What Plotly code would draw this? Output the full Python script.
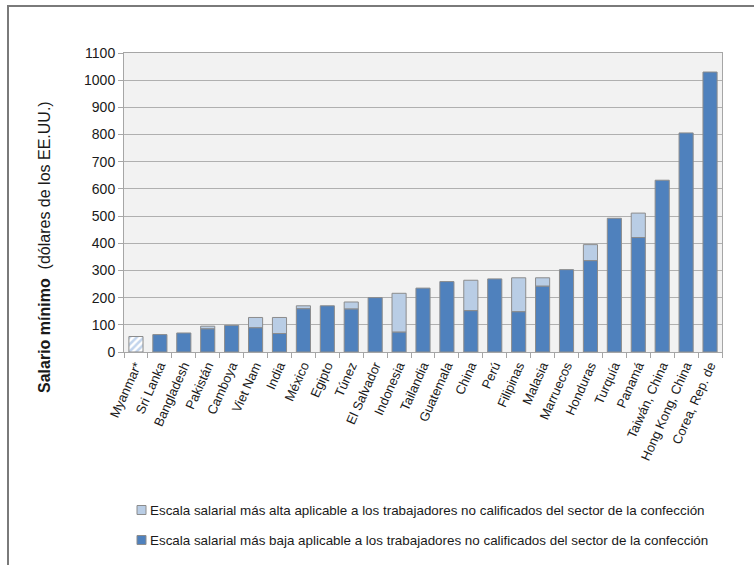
import plotly.graph_objects as go

categories = ["Myanmar*", "Sri Lanka", "Bangladesh", "Pakistán", "Camboya", "Viet Nam", "India",
              "México", "Egipto", "Túnez", "El Salvador", "Indonesia", "Tailandia", "Guatemala",
              "China", "Perú", "Filipinas", "Malasia", "Marruecos", "Honduras", "Turquía",
              "Panamá", "Taiwán, China", "Hong Kong, China", "Corea, Rep. de"]
lower = [57, 64, 70, 85, 98, 89, 68, 159, 170, 158, 200, 73, 235, 259, 152, 269, 148, 242,
         303, 336, 492, 421, 632, 806, 1030]
upper = [57, 64, 70, 95, 98, 127, 127, 170, 170, 184, 200, 216, 235, 259, 264, 269, 273, 273,
         303, 395, 492, 511, 632, 806, 1030]
hatched = [True] + [False] * 24

name_high = "Escala salarial más alta aplicable a los trabajadores no calificados del sector de la confección"
name_low = "Escala salarial más baja aplicable a los trabajadores no calificados del sector de la confección"

DARK = "#4f81bd"
LIGHT = "#b9cde5"
OUTLINE = "#8c8c8c"

plain_x = [c for c, h in zip(categories, hatched) if not h]
plain_low = [v for v, h in zip(lower, hatched) if not h]
plain_diff = [(u - v) if u > v else None for u, v, h in zip(upper, lower, hatched) if not h]
hatch_x = [c for c, h in zip(categories, hatched) if h]
hatch_y = [v for v, h in zip(lower, hatched) if h]

fig = go.Figure()
fig.add_trace(go.Bar(x=plain_x, y=plain_diff, base=plain_low, name=name_high,
                     marker=dict(color=LIGHT, line=dict(color=OUTLINE, width=1))))
fig.add_trace(go.Bar(x=plain_x, y=plain_low, name=name_low,
                     marker=dict(color=DARK, line=dict(color=OUTLINE, width=1))))
fig.add_trace(go.Bar(x=hatch_x, y=hatch_y, name="Myanmar",
                     marker=dict(color="white", line=dict(color=OUTLINE, width=1),
                                 pattern=dict(shape="/", fgcolor="#86a9d9", bgcolor="white",
                                              size=5, solidity=0.5))))

W, H = 754, 565
L, R, T, B = 124, 722, 53, 352
pw, ph = R - L, B - T


def px_x(p):
    return (p - L) / pw


def px_y(p):
    return (B - p) / ph


legend_shapes = []
legend_annots = []
for yc, col, txt in [(510, LIGHT, name_high), (540, DARK, name_low)]:
    legend_shapes.append(dict(type="rect", xref="paper", yref="paper",
                              x0=px_x(137), x1=px_x(146), y0=px_y(yc + 4.5), y1=px_y(yc - 4.5),
                              fillcolor=col, line=dict(color=OUTLINE, width=1)))
    legend_annots.append(dict(text=txt, xref="paper", yref="paper", x=px_x(148), y=px_y(yc),
                              xanchor="left", yanchor="middle", showarrow=False,
                              font=dict(size=13.4, color="#1a1a1a")))

fig.update_layout(
    width=W, height=H,
    margin=dict(l=L, r=W - R, t=T, b=H - B, autoexpand=False),
    barmode="overlay", bargap=0.41,
    paper_bgcolor="white", plot_bgcolor="#f2f2f2",
    font=dict(family="Liberation Sans, Arial, sans-serif", size=13, color="#1a1a1a"),
    showlegend=False,
    xaxis=dict(categoryorder="array", categoryarray=categories, tickangle=-66,
               showline=True, linecolor="#a6a6a6", linewidth=1, mirror=True,
               ticks="outside", tickson="boundaries", ticklen=5, tickcolor="#a6a6a6",
               showgrid=False, tickfont=dict(size=13), automargin=False),
    yaxis=dict(range=[0, 1100], dtick=100, showline=True, linecolor="#a6a6a6", linewidth=1,
               mirror=True, ticks="outside", ticklen=5, tickcolor="#a6a6a6",
               gridcolor="#b0b0b0", gridwidth=1.3, zeroline=False, tickfont=dict(size=14),
               automargin=False),
    annotations=[dict(text="<b>Salario mínimo</b>  (dólares de los EE.UU.)", textangle=-90,
                      xref="paper", yref="paper", x=px_x(44), y=px_y(247),
                      xanchor="center", yanchor="middle", showarrow=False,
                      font=dict(size=16, color="#1a1a1a"))] + legend_annots,
    shapes=[dict(type="rect", xref="paper", yref="paper",
                 x0=px_x(8), x1=px_x(W + 20), y0=px_y(H + 20), y1=px_y(6),
                 line=dict(color="#7a7a7a", width=2), layer="below")] + legend_shapes,
)

fig.write_html("out.html", config={"displayModeBar": False},
               post_script="document.body.style.margin='0';")
